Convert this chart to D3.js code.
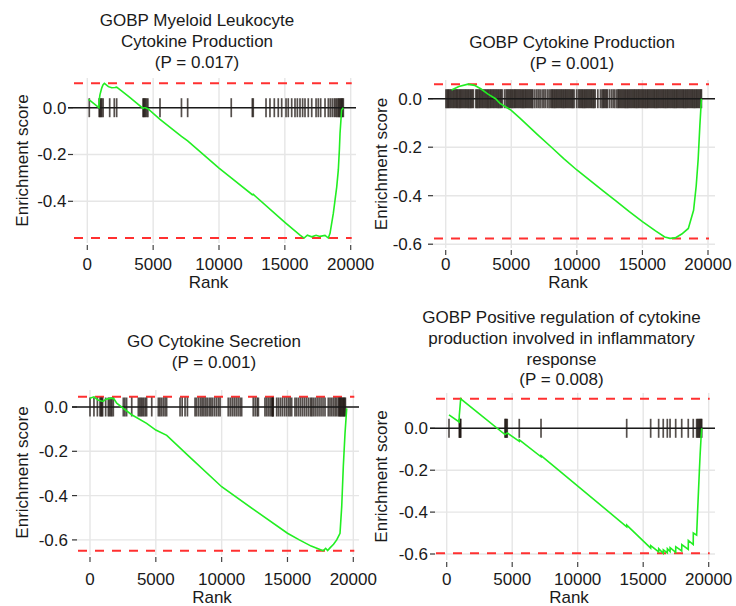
<!DOCTYPE html>
<html>
<head>
<meta charset="utf-8">
<script src="https://cdn.jsdelivr.net/npm/d3@7"></script>
<style>
body { margin: 0; background: #fff; }
svg { display: block; }
text { font-family: "Liberation Sans", Arial, sans-serif; fill: #1a1a1a; }
</style>
</head>
<body>
<svg id="chart" width="736" height="606"></svg>
<script>
// titles and p values
const titles = [
  ["GOBP Myeloid Leukocyte", "Cytokine Production"],
  ["GOBP Cytokine Production"],
  ["GO Cytokine Secretion"],
  ["GOBP Positive regulation of cytokine", "production involved in inflammatory", "response"]
];
const pValues = ["0.017", "0.001", "0.001", "0.008"];

const xTicks = [0, 5000, 10000, 15000, 20000];
const yTicks1 = [0, -0.2, -0.4];
const yTicks2 = [0, -0.2, -0.4, -0.6];

// running enrichment score, [rank, ES]
const p1Curve = [[100,0.036],[880,0.0],[900,0.03],[960,0.055],[1030,0.07],[1100,0.085],[1200,0.098],[1300,0.104],
  [1600,0.09],[1850,0.085],[2100,0.086],[2230,0.088],[2600,0.072],[3200,0.045],[3750,0.02],[4230,-0.003],
  [4290,0.0],[4420,0.0],[4600,-0.004],[5520,-0.05],[7150,-0.123],[7620,-0.142],[10000,-0.258],[10930,-0.3],
  [12530,-0.372],[12600,-0.37],[15000,-0.49],[16150,-0.545],[16460,-0.557],[16710,-0.545],[17040,-0.552],
  [17370,-0.545],[17670,-0.55],[18050,-0.546],[18300,-0.557],[18430,-0.537],[18680,-0.452],[18810,-0.395],
  [18940,-0.338],[19060,-0.266],[19140,-0.18],[19190,-0.11],[19310,-0.01],[19440,0.0]];

const p2Curve = [[450,0.036],[1000,0.05],[1700,0.06],[2200,0.055],[2700,0.04],[3200,0.02],[3800,0.0],[4140,-0.019],
  [5000,-0.048],[5660,-0.08],[7000,-0.148],[8000,-0.197],[9000,-0.247],[10000,-0.294],[11000,-0.337],[12000,-0.38],
  [13000,-0.422],[14000,-0.466],[15000,-0.507],[16000,-0.545],[16700,-0.57],[17100,-0.576],[17500,-0.574],
  [18000,-0.558],[18500,-0.535],[18900,-0.46],[19100,-0.36],[19250,-0.25],[19380,-0.11],[19500,0.0]];

const p3Curve = [[0,0.039],[300,0.046],[600,0.032],[800,0.028],[1000,0.025],[1200,0.035],[1650,0.04],[1800,0.038],
  [2030,0.017],[2530,-0.006],[3170,-0.035],[4300,-0.074],[5000,-0.104],[5830,-0.128],[7500,-0.222],[10000,-0.36],
  [12500,-0.466],[15000,-0.57],[15900,-0.6],[16800,-0.628],[17470,-0.643],[17700,-0.649],[17900,-0.638],
  [18050,-0.648],[18230,-0.636],[18500,-0.62],[18740,-0.6],[18990,-0.57],[19120,-0.45],[19240,-0.27],
  [19370,-0.12],[19500,-0.006]];

const p4Curve = [[175,0.064],[950,0.03],[960,0.06],[1000,0.09],[1040,0.12],[1070,0.141],[4450,-0.03],[4620,-0.022],
  [5540,-0.062],[5545,-0.055],[7200,-0.136],[7205,-0.13],[13740,-0.47],[13745,-0.462],[15570,-0.572],[15575,-0.56],
  [16180,-0.59],[16185,-0.575],[16530,-0.597],[16535,-0.58],[16840,-0.595],[16845,-0.575],[17050,-0.588],
  [17055,-0.57],[17480,-0.592],[17485,-0.565],[17940,-0.585],[17945,-0.555],[18440,-0.578],[18445,-0.535],
  [18820,-0.555],[18825,-0.5],[19080,-0.51],[19150,-0.4],[19220,-0.3],[19290,-0.2],[19350,-0.12],[19420,-0.04],
  [19470,0.0]];

// ranks of gene-set members
const p1Hits = [150, 900, 960, 1030, 1100, 1200, 1700, 2050, 2230, 4230, 4290, 4350, 4420, 4500, 4600, 5520,
  7150, 7620, 10930, 12530, 12600, 13570, 13870, 14200, 14500, 14760, 15090, 15260, 15520, 15770, 15950, 16150,
  16350, 16530, 16780, 17040, 17370, 17540, 17720, 18050, 18300, 18450, 18600, 18750, 18850, 18950, 19050,
  19120, 19190, 19260, 19320, 19380, 19440];

const p2Hits = [20, 110, 190, 260, 350, 430, 520, 600, 680, 770, 850, 930, 1020, 1100, 1180, 1270, 1350, 1440,
  1520, 1600, 1690, 1770, 1860, 1940, 2030, 2110, 2300, 2380, 2460, 2550, 2630, 2720, 2800, 2880, 2970, 3050,
  3140, 3220, 3300, 3390, 3470, 3560, 3640, 3720, 3810, 3890, 3980, 4060, 4150, 4230, 4320, 4500, 4620, 4710,
  4790, 4880, 4960, 5050, 5130, 5220, 5300, 5380, 5470, 5550, 5640, 5720, 5810, 5890, 5970, 6060, 6140, 6230,
  6310, 6400, 6480, 6570, 6650, 6800, 6950, 7080, 7200, 7350, 7480, 7600, 7750, 7880, 8000, 8090, 8170, 8260,
  8340, 8430, 8510, 8600, 8680, 8770, 8850, 8940, 9020, 9110, 9190, 9280, 9360, 9450, 9530, 9620, 9700, 9790,
  9980, 10120, 10210, 10290, 10380, 10460, 10550, 10630, 10720, 10800, 10890, 10970, 11060, 11140, 11230,
  11310, 11400, 11600, 11800, 11920, 12010, 12090, 12180, 12260, 12340, 12500, 12650, 12780, 12900, 13050,
  13150, 13230, 13320, 13400, 13490, 13570, 13660, 13740, 13830, 13910, 14000, 14080, 14170, 14250, 14340,
  14420, 14510, 14590, 14680, 14760, 14850, 14930, 15020, 15100, 15190, 15270, 15360, 15440, 15530, 15610,
  15700, 15780, 15870, 15950, 16040, 16120, 16210, 16290, 16380, 16460, 16550, 16630, 16720, 16800, 16890,
  16970, 17060, 17140, 17230, 17310, 17400, 17480, 17570, 17650, 17740, 17820, 17910, 17990, 18080, 18160,
  18250, 18330, 18420, 18500, 18590, 18670, 18760, 18840, 18930, 19010, 19100, 19180, 19270, 19350, 19440, 19500];

const p3Hits = [0, 300, 560, 760, 830, 900, 960, 1190, 1390, 1480, 1570, 1660, 1770, 2530, 2650, 2780, 3170,
  3670, 3780, 3880, 3980, 4080, 4200, 4300, 4690, 5190, 5300, 5420, 5560, 5700, 5820, 6840, 7000, 7220, 7400,
  7980, 8100, 8250, 8400, 8520, 8650, 8780, 8900, 9050, 9180, 9300, 9450, 9600, 9750, 9880, 10500, 10650,
  10800, 10950, 11100, 11250, 11400, 11520, 12400, 12550, 12700, 12790, 13290, 13420, 13550, 13680, 13800,
  13850, 13900, 13920, 14180, 14320, 14470, 14620, 14780, 14930, 15080, 15200, 15320, 15570, 15700, 15850,
  16000, 16150, 16300, 16450, 16600, 16750, 16840, 16960, 17100, 17250, 17400, 17550, 17700, 17850, 18100,
  18230, 18360, 18490, 18620, 18740, 18870, 18930, 18990, 19050, 19110, 19170, 19230, 19290, 19350, 19400];

const p4Hits = [175, 960, 1000, 1040, 1070, 4450, 4500, 4560, 4620, 5540, 7200, 13740, 15570, 16180, 16530,
  16840, 17050, 17480, 17940, 18440, 18820, 19080, 19150, 19220, 19290, 19350, 19420, 19470];

const svg = d3.select("#chart");
const fs = 17;

const panels = [
  { title: titles[0], p: pValues[0], curve: p1Curve, hits: p1Hits, yTicks: yTicks1,
    left: 73, right: 356, top: 78, bottom: 243, x0: 87.3, x1: 350.7, y0: 107.7, y6: 248.1,
    titleX: 197, titleY: 26, tickY: 269.5, rankY: 287.8, yTitleX: 27.8, gap: 6.5 },
  { title: titles[1], p: pValues[1], curve: p2Curve, hits: p2Hits, yTicks: yTicks2,
    left: 433, right: 715, top: 80, bottom: 248, x0: 445.7, x1: 708, y0: 98.7, y6: 244.2,
    titleX: 572, titleY: 47.7, tickY: 269.5, rankY: 287.8, yTitleX: 386.8, gap: 11 },
  { title: titles[2], p: pValues[2], curve: p3Curve, hits: p3Hits, yTicks: yTicks2,
    left: 77, right: 359, top: 390, bottom: 555, x0: 90, x1: 353.3, y0: 407, y6: 539.9,
    titleX: 214, titleY: 346.7, tickY: 584.5, rankY: 602.8, yTitleX: 27.8, gap: 9 },
  { title: titles[3], p: pValues[3], curve: p4Curve, hits: p4Hits, yTicks: yTicks2,
    left: 435, right: 715, top: 393, bottom: 560, x0: 446.7, x1: 708.7, y0: 428.3, y6: 554,
    titleX: 561.5, titleY: 322.7, tickY: 584.8, rankY: 603.2, yTitleX: 386.8, gap: 7 }
];

panels.forEach(d => {
  const x = d3.scaleLinear().domain([0, 20000]).range([d.x0, d.x1]);
  const y = d3.scaleLinear().domain([0, -0.6]).range([d.y0, d.y6]);
  const g = svg.append("g");

  // grid
  g.selectAll(".gx").data(xTicks).join("line")
    .attr("x1", v => x(v)).attr("x2", v => x(v))
    .attr("y1", d.top).attr("y2", d.bottom)
    .attr("stroke", "#e6e6e6").attr("stroke-width", 1.4);
  g.selectAll(".gy").data(d.yTicks).join("line")
    .attr("x1", d.left).attr("x2", d.right)
    .attr("y1", v => y(v)).attr("y2", v => y(v))
    .attr("stroke", "#e6e6e6").attr("stroke-width", 1.4);

  // axes ticks
  g.selectAll(".tx").data(xTicks).join("line")
    .attr("x1", v => x(v)).attr("x2", v => x(v))
    .attr("y1", d.bottom + 2).attr("y2", d.bottom + 7)
    .attr("stroke", "#444").attr("stroke-width", 1.2);
  g.selectAll(".lx").data(xTicks).join("text")
    .attr("x", v => x(v)).attr("y", d.tickY)
    .attr("text-anchor", "middle").attr("font-size", fs)
    .text(v => v);
  g.selectAll(".ty").data(d.yTicks).join("line")
    .attr("x1", d.left - 5).attr("x2", d.left)
    .attr("y1", v => y(v)).attr("y2", v => y(v))
    .attr("stroke", "#333").attr("stroke-width", 1.2);
  g.selectAll(".ly").data(d.yTicks).join("text")
    .attr("x", d.left - d.gap).attr("y", v => y(v))
    .attr("dy", "0.35em").attr("text-anchor", "end").attr("font-size", fs)
    .text(v => v.toFixed(1));

  // max / min ES
  const esMax = d3.max(d.curve, c => c[1]);
  const esMin = d3.min(d.curve, c => c[1]);
  g.selectAll(".es").data([esMax, esMin]).join("line")
    .attr("x1", d.left + 1).attr("x2", x(20000) + 1)
    .attr("y1", v => y(v)).attr("y2", v => y(v))
    .attr("stroke", "#ff3030").attr("stroke-width", 2)
    .attr("stroke-dasharray", "9,8");

  // hits
  g.selectAll(".hit").data(d.hits).join("line")
    .attr("x1", v => x(v)).attr("x2", v => x(v))
    .attr("y1", y(0) - 9.5).attr("y2", y(0) + 9.5)
    .attr("stroke", "#1c1410").attr("stroke-width", 1.7).attr("stroke-opacity", 0.75);

  // zero line
  g.append("line")
    .attr("x1", d.left - 5).attr("x2", d.right)
    .attr("y1", y(0)).attr("y2", y(0))
    .attr("stroke", "#1a1a1a").attr("stroke-width", 1.6);

  // running ES
  g.append("path")
    .datum(d.curve)
    .attr("fill", "none").attr("stroke", "#22ee22").attr("stroke-width", 1.6)
    .attr("d", d3.line().x(c => x(c[0])).y(c => y(c[1])));

  // title
  const lines = d.title.concat(["(P = " + d.p + ")"]);
  g.selectAll(".title").data(lines).join("text")
    .attr("x", d.titleX).attr("y", (t, i) => d.titleY + i * 20.9)
    .attr("text-anchor", "middle").attr("font-size", fs)
    .text(t => t);

  // axis titles
  g.append("text")
    .attr("x", (d.left + d.right) / 2 - 6).attr("y", d.rankY)
    .attr("text-anchor", "middle").attr("font-size", fs)
    .text("Rank");
  g.append("text")
    .attr("transform", `translate(${d.yTitleX},${(d.top + d.bottom) / 2}) rotate(-90)`)
    .attr("text-anchor", "middle").attr("font-size", fs)
    .text("Enrichment score");
});
</script>
</body>
</html>
